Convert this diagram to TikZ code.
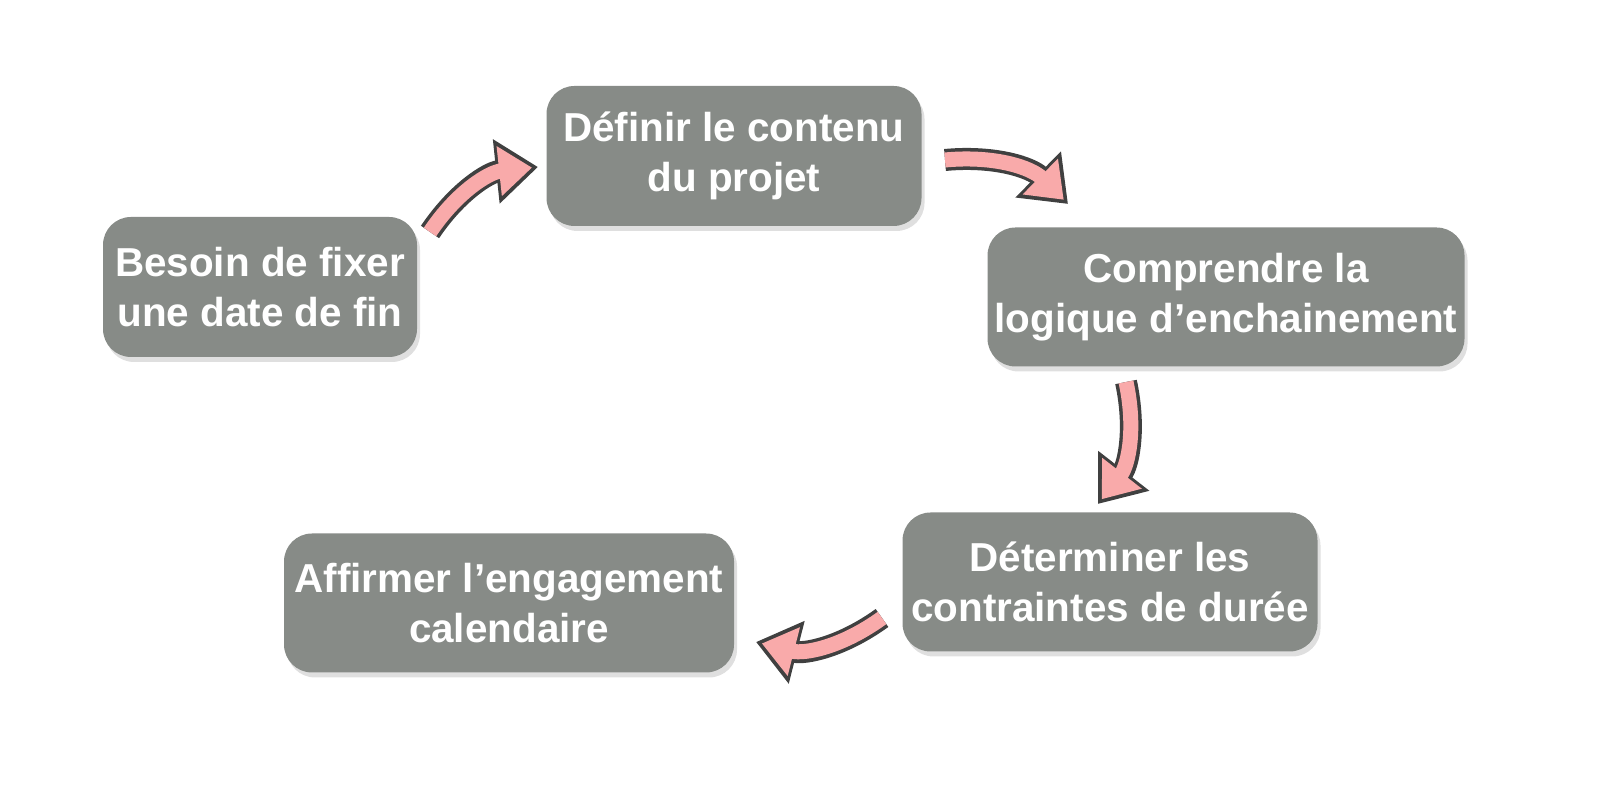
\documentclass[tikz,border=0pt]{standalone}
\usepackage{fontspec}
\setmainfont{Liberation Sans}
\usetikzlibrary{arrows.meta,shadows}
\definecolor{boxgray}{HTML}{878B87}
\definecolor{arrowpink}{HTML}{F9AAAA}
\tikzset{
  phase/.style={rounded corners=0.28cm, fill=boxgray, text=white, align=center,
    font=\bfseries\fontsize{11.5}{14.3}\selectfont, inner sep=0pt,
    drop shadow={opacity=0.25, shadow xshift=0.03cm, shadow yshift=-0.05cm}},
  flowout/.style={line width=0.22cm, draw=black!75, -{Triangle[width=0.62cm,length=0.42cm]}},
  flowin/.style={line width=0.15cm, draw=arrowpink, shorten >=0.06cm, -{Triangle[width=0.48cm,length=0.33cm]}}
}
\begin{document}
\begin{tikzpicture}
  \useasboundingbox (0,0) rectangle (16.2,8.12);
  \node[phase, minimum width=3.14cm, minimum height=1.40cm] (besoin) at (2.60,5.25) {Besoin de fixer\\une date de fin};
  \node[phase, minimum width=3.75cm, minimum height=1.40cm] (definir) at (7.34,6.56) {Définir le contenu\\du projet};
  \node[phase, minimum width=4.77cm, minimum height=1.39cm] (comprendre) at (12.26,5.15) {Comprendre la\\logique d’enchainement};
  \node[phase, minimum width=4.15cm, minimum height=1.39cm] (determiner) at (11.10,2.30) {Déterminer les\\contraintes de durée};
  \node[phase, minimum width=4.50cm, minimum height=1.39cm] (affirmer) at (5.09,2.09) {Affirmer l’engagement\\calendaire};
  % arrow ends
  \coordinate (a1s) at (4.30,5.80); \coordinate (a1e) at (5.38,6.45);
  \coordinate (a2s) at (9.45,6.52); \coordinate (a2e) at (10.68,6.08);
  \coordinate (a3s) at (11.26,4.30); \coordinate (a3e) at (10.98,3.08);
  \coordinate (a4s) at (8.82,1.94); \coordinate (a4e) at (7.56,1.70);
  \foreach \s/\e in {a1s/a1e, a2s/a2e, a3s/a3e, a4s/a4e} {
    \draw[flowout] (\s) to[bend left=25] (\e);
    \draw[flowin] (\s) to[bend left=25] (\e);
  }
\end{tikzpicture}
\end{document}
